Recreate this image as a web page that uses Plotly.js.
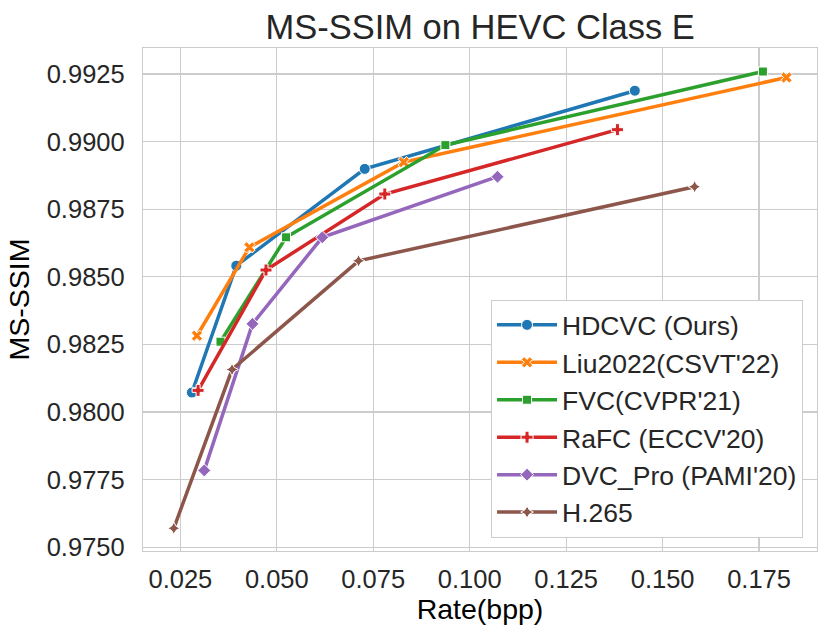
<!DOCTYPE html>
<html>
<head>
<meta charset="utf-8">
<script src="https://cdn.plot.ly/plotly-3.0.1.min.js"></script>
<style>html,body{margin:0;padding:0;background:#fff;}#chart{width:830px;height:638px;}</style>
</head>
<body>
<div id="chart"></div>
<script>
const seriesNames = ["HDCVC (Ours)", "Liu2022(CSVT'22)", "FVC(CVPR'21)", "RaFC (ECCV'20)", "DVC_Pro (PAMI'20)", "H.265"];

const rate_hdcvc = [0.0280, 0.0395, 0.0728, 0.1428];
const ssim_hdcvc = [0.98072, 0.98541, 0.98899, 0.99188];

const rate_liu = [0.0293, 0.0429, 0.0829, 0.1821];
const ssim_liu = [0.98282, 0.98609, 0.98924, 0.99237];

const rate_fvc = [0.0354, 0.0524, 0.0937, 0.1760];
const ssim_fvc = [0.98260, 0.98646, 0.98987, 0.99259];

const rate_rafc = [0.0296, 0.0472, 0.0780, 0.1383];
const ssim_rafc = [0.98080, 0.98525, 0.98806, 0.99044];

const rate_dvcpro = [0.0312, 0.0437, 0.0618, 0.1072];
const ssim_dvcpro = [0.97784, 0.98326, 0.98646, 0.98870];

const rate_h265 = [0.0233, 0.0384, 0.0712, 0.1583];
const ssim_h265 = [0.97570, 0.98157, 0.98559, 0.98833];

const xTickVals = [0.025, 0.050, 0.075, 0.100, 0.125, 0.150, 0.175];
const yTickVals = [0.9750, 0.9775, 0.9800, 0.9825, 0.9850, 0.9875, 0.9900, 0.9925];

const rates = [rate_hdcvc, rate_liu, rate_fvc, rate_rafc, rate_dvcpro, rate_h265];
const ssims = [ssim_hdcvc, ssim_liu, ssim_fvc, ssim_rafc, ssim_dvcpro, ssim_h265];

const colors = ["#1f77b4", "#ff7f0e", "#2ca02c", "#d62728", "#9467bd", "#8c564b"];
const symbols = ["circle", "x", "square", "cross", "diamond", "star-diamond"];
const sizes = [11, 10, 9, 10, 10, 9];

const FONT = "Liberation Sans, Arial, Helvetica, sans-serif";
const TXT = "#262626";

const traces = seriesNames.map((name, i) => ({
  type: "scatter",
  mode: "lines+markers",
  name: name,
  x: rates[i],
  y: ssims[i],
  line: {color: colors[i], width: 3.5},
  marker: {symbol: symbols[i], size: sizes[i], color: colors[i], line: {color: "#ffffff", width: 1}}
}));

const layout = {
  width: 830,
  height: 638,
  paper_bgcolor: "#ffffff",
  plot_bgcolor: "#ffffff",
  margin: {l: 143, r: 13, t: 48, b: 87},
  font: {family: FONT, color: TXT},
  title: {
    text: "MS-SSIM on HEVC Class E",
    font: {family: FONT, size: 34.5, color: TXT},
    x: 0.5785, xanchor: "center",
    y: 0.958, yanchor: "middle"
  },
  xaxis: {
    range: [0.01532, 0.19002],
    tickvals: xTickVals,
    tickformat: ".3f",
    tickfont: {family: FONT, size: 25.5, color: TXT},
    ticks: "",
    ticklabelstandoff: 5,
    showgrid: true, gridcolor: "#cccccc", gridwidth: 1.2,
    showline: true, linecolor: "#cccccc", linewidth: 1.2, mirror: true,
    zeroline: false,
    title: {text: "Rate(bpp)", font: {family: FONT, size: 28.5, color: "#000000"}, standoff: 3}
  },
  yaxis: {
    range: [0.97486, 0.99346],
    tickvals: yTickVals,
    tickformat: ".4f",
    tickfont: {family: FONT, size: 25.5, color: TXT},
    ticks: "",
    ticklabelstandoff: 12,
    showgrid: true, gridcolor: "#cccccc", gridwidth: 1.2,
    showline: true, linecolor: "#cccccc", linewidth: 1.2, mirror: true,
    zeroline: false,
    title: {text: "MS-SSIM", font: {family: FONT, size: 28.5, color: "#000000"}, standoff: 8}
  },
  legend: {
    x: 0.979, xanchor: "right",
    y: 0.026, yanchor: "bottom",
    bgcolor: "#ffffff",
    bordercolor: "#cccccc",
    borderwidth: 1.2,
    font: {family: FONT, size: 26.5, color: TXT},
    itemwidth: 60,
    tracegroupgap: 0
  },
  showlegend: true
};

Plotly.newPlot("chart", traces, layout, {displayModeBar: false, staticPlot: true});
</script>
</body>
</html>
